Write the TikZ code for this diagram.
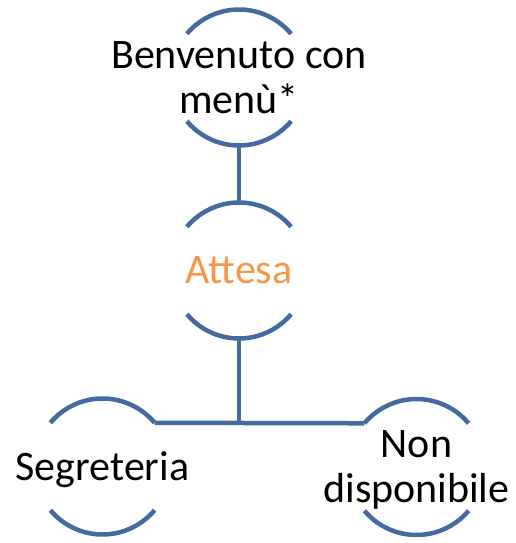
\documentclass[tikz,border=0pt]{standalone}
\usepackage{fontspec}
\setmainfont{Carlito}
\definecolor{ringblue}{RGB}{68,106,160}
\definecolor{waitorange}{RGB}{247,150,70}
\tikzset{
  ring/.style={circle, minimum size=136pt, inner sep=0pt, outer sep=0pt},
  ringtext/.style={align=center, inner sep=0pt, font=\fontsize{42}{45}\selectfont},
  ringline/.style={ringblue, line width=4.5pt}
}

\begin{document}
\begin{tikzpicture}[x=1pt,y=1pt]
\useasboundingbox (0,0) rectangle (515,543);
\node[ring] (menu) at (239,465.5) {};
\node[ring] (wait) at (239,272.5) {};
\node[ring] (secr) at (102.5,76.5) {};
\node[ring] (busy) at (416.5,76) {};

\node[ringtext] (menutxt) at (menu) {Benvenuto con\\menù*};
\node[ringtext, text=waitorange] (waittxt) at (wait) {Attesa};
\node[ringtext, yshift=-3pt] (secrtxt) at (secr) {Segreteria};
\node[ringtext, yshift=-3pt] (busytxt) at (busy) {Non\\disponibile};

% half arcs of each ring
\foreach \n in {menu,wait,secr,busy}{
  \draw[ringline] (\n.40) arc (40:140:68);
  \draw[ringline] (\n.220) arc (220:320:68);
}
\draw[ringline] (menu.south) -- (wait.north);
\draw[ringline] (secr.40) -- (busy.140);
\draw[ringline] (wait.south) -- (wait.south |- secr.40);
\end{tikzpicture}
\end{document}
